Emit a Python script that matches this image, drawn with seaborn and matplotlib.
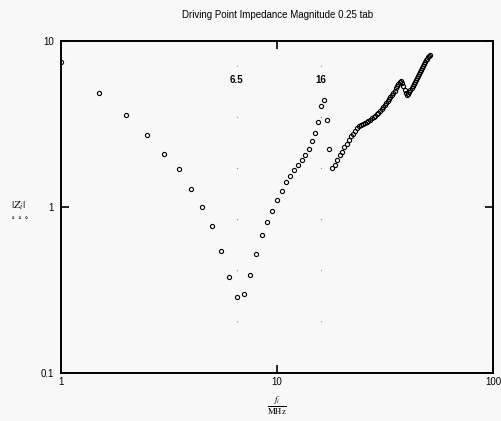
import matplotlib
matplotlib.use("Agg")
import matplotlib.pyplot as plt
import seaborn as sns
import pandas as pd
from matplotlib.ticker import FixedLocator, NullLocator, FixedFormatter

# ---- data ----
freq_mhz = [1.0, 1.5, 2.0, 2.5, 3.0, 3.5, 4.0, 4.5, 5.0, 5.5,
            6.0, 6.5, 7.0, 7.5, 8.0, 8.5, 9.0, 9.5, 10.0, 10.5,
            11.0, 11.5, 12.0, 12.5, 13.0, 13.5, 14.0, 14.5, 15.0, 15.5,
            16.0, 16.5, 17.0, 17.5, 18.0, 18.5, 19.0, 19.5, 20.0, 20.5,
            21.0, 21.5, 22.0, 22.5, 23.0, 23.5, 24.0, 24.5, 25.0, 25.5,
            26.0, 26.5, 27.0, 27.5, 28.0, 28.5, 29.0, 29.5, 30.0, 30.5,
            31.0, 31.5, 32.0, 32.5, 33.0, 33.5, 34.0, 34.5, 35.0, 35.5,
            36.0, 36.5, 37.0, 37.5, 38.0, 38.5, 39.0, 39.5, 40.0, 40.5,
            41.0, 41.5, 42.0, 42.5, 43.0, 43.5, 44.0, 44.5, 45.0, 45.5,
            46.0, 46.5, 47.0, 47.5, 48.0, 48.5, 49.0, 49.5, 50.0, 50.5,
            51.0]
z_mag = [7.5, 4.88, 3.58, 2.72, 2.09, 1.69, 1.28, 1.00, 0.768, 0.545,
         0.38, 0.286, 0.299, 0.391, 0.521, 0.678, 0.815, 0.946, 1.10, 1.25,
         1.42, 1.54, 1.67, 1.79, 1.92, 2.06, 2.23, 2.50, 2.79, 3.25,
         4.06, 4.41, 3.34, 2.23, 1.72, 1.79, 1.92, 2.06, 2.14, 2.30,
         2.40, 2.53, 2.68, 2.75, 2.87, 2.99, 3.08, 3.12, 3.16, 3.21,
         3.25, 3.30, 3.34, 3.44, 3.48, 3.53, 3.63, 3.68, 3.79, 3.89,
         4.00, 4.12, 4.23, 4.35, 4.47, 4.60, 4.73, 4.86, 5.00, 5.21,
         5.36, 5.51, 5.66, 5.74, 5.58, 5.36, 5.07, 4.86, 4.73, 4.80,
         4.93, 5.07, 5.21, 5.36, 5.51, 5.66, 5.82, 5.98, 6.15, 6.33,
         6.51, 6.69, 6.88, 7.07, 7.27, 7.47, 7.68, 7.79, 8.01, 8.12,
         8.24]

x_ticks = [1, 10, 100]
x_tick_labels = ["1", "10", "100"]
y_ticks = [0.1, 1, 10]
y_tick_labels = ["0.1", "1", "10"]

marker_freqs = [6.5, 16]
marker_labels = ["6.5", "16"]
marker_label_y = 5.8

title = "Driving Point Impedance Magnitude 0.25 tab"

# ---- plot ----
sns.set_style("white")
plt.rcParams["font.family"] = ["Liberation Sans", "DejaVu Sans"]
plt.rcParams["mathtext.fontset"] = "stix"

bg = "#f8f8f8"
fig = plt.figure(figsize=(5.02, 4.21), dpi=100, facecolor=bg)
ax = fig.add_axes([61 / 502, 48 / 421, 432 / 502, 332 / 421], facecolor=bg)

df = pd.DataFrame({"f": freq_mhz, "z": z_mag})
sns.lineplot(data=df, x="f", y="z", ax=ax, estimator=None, sort=False,
             linestyle="none", marker="o", markersize=3.0,
             markerfacecolor="none", markeredgecolor="black",
             markeredgewidth=0.8, color="black")

ax.set_xscale("log")
ax.set_yscale("log")
ax.set_xlim(1, 100)
ax.set_ylim(0.1, 10)

ax.xaxis.set_major_locator(FixedLocator(x_ticks))
ax.xaxis.set_major_formatter(FixedFormatter(x_tick_labels))
ax.yaxis.set_major_locator(FixedLocator(y_ticks))
ax.yaxis.set_major_formatter(FixedFormatter(y_tick_labels))
ax.xaxis.set_minor_locator(NullLocator())
ax.yaxis.set_minor_locator(NullLocator())

ax.tick_params(which="major", direction="in", length=6, width=1.2,
               top=True, right=True, bottom=True, left=True,
               labelsize=7, colors="black")
ax.tick_params(axis="x", pad=3)
ax.tick_params(axis="y", pad=5)
for s in ax.spines.values():
    s.set_linewidth(1.4)
    s.set_color("black")
    s.set_visible(True)

ax.set_xlabel("")
ax.set_ylabel("")

# faint marker lines
for mf, ml in zip(marker_freqs, marker_labels):
    ax.axvline(mf, color="0.55", lw=0.8, linestyle=(0, (1, 45)), zorder=0)
    ax.text(mf, marker_label_y, ml, ha="center", va="center",
            fontsize=7, fontweight="bold", color="black")

fig.text(278 / 502, 1 - 15 / 421, title, ha="center", va="center",
         fontsize=7, color="black")

# axis labels (Mathcad style)
fig.text(277 / 502, 1 - 406 / 421, r"$\frac{f_i}{\mathrm{MHz}}$",
         ha="center", va="center", fontsize=9, color="black")
fig.text(18 / 502, 1 - 206 / 421, r"$|Z_i|$", ha="center", va="center",
         fontsize=8, color="black")
fig.text(20 / 502, 1 - 218 / 421, "\u2218 \u2218 \u2218", ha="center",
         va="center", fontsize=5, color="black", family=["DejaVu Sans"])

fig.savefig("out.png", dpi=100, facecolor=bg)
